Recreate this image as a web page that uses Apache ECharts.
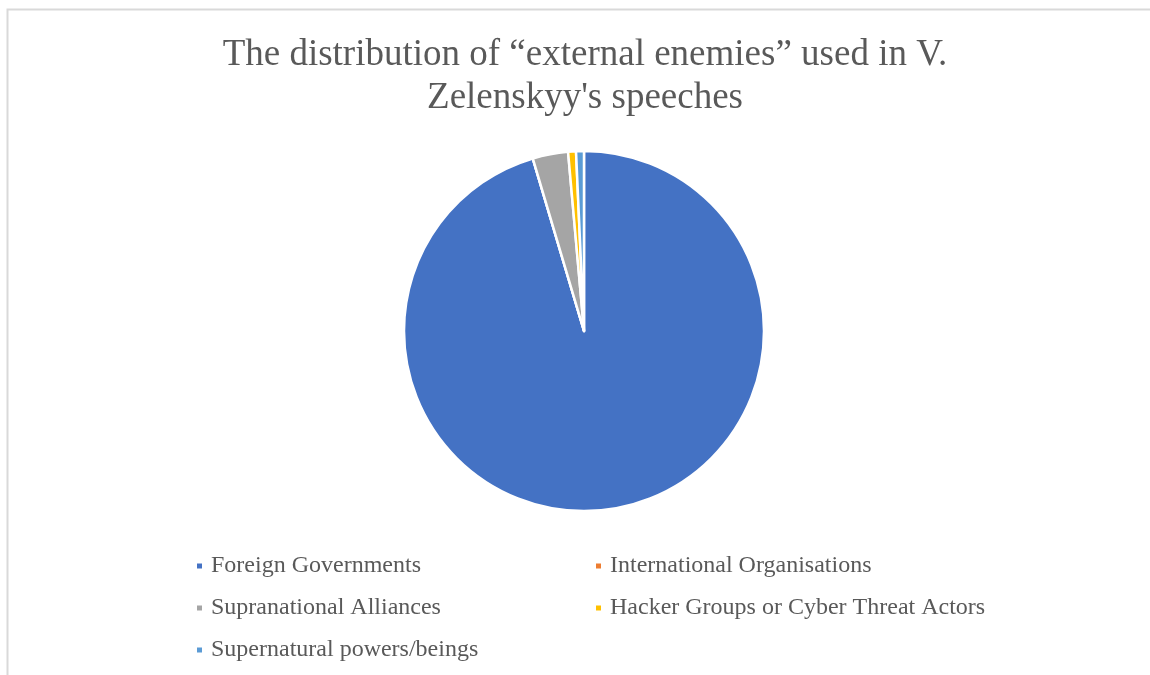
<!DOCTYPE html>
<html>
<head>
<meta charset="utf-8">
<script src="https://cdn.jsdelivr.net/npm/echarts@6/dist/echarts.min.js"></script>
<style>
  html, body { margin: 0; padding: 0; background: #fff; }
  #chart { width: 1150px; height: 675px; }
</style>
</head>
<body>
<div id="chart"></div>
<script>
// enemy categories, in the order Excel drew them (clockwise from 12 o'clock)
const categories = [
  'Foreign Governments',
  'International Organisations',
  'Supranational Alliances',
  'Hacker Groups or Cyber Threat Actors',
  'Supernatural powers/beings'
]
const counts = [270, 0, 9, 2, 2]
const colors = ['#4472C4', '#ED7D31', '#A5A5A5', '#FFC000', '#5B9BD5']

// legend columns as laid out in the picture
const leftColumn = [categories[0], categories[2], categories[4]]
const rightColumn = [categories[1], categories[3]]

const chart = echarts.init(document.getElementById('chart'))

const legendBase = {
  orient: 'vertical',
  icon: 'rect',
  padding: 0,
  itemWidth: 7,
  itemHeight: 7,
  itemGap: 18,
  selectedMode: false,
  textStyle: {
    fontFamily: 'Liberation Serif',
    fontSize: 24,
    color: '#595959',
    padding: [0, 0, 0, 3],
    height: 24,
    lineHeight: 24
  }
}

const option = {
  color: colors,
  animation: false,
  title: {
    text: 'The distribution of \u201cexternal enemies\u201d used in V.\nZelenskyy\'s speeches',
    left: 580,
    top: 29,
    textAlign: 'center',
    textStyle: {
      fontFamily: 'Liberation Serif',
      fontSize: 37,
      fontWeight: 'normal',
      color: '#595959',
      lineHeight: 43
    }
  },
  legend: [
    Object.assign({}, legendBase, { data: leftColumn, left: 195, top: 554 }),
    Object.assign({}, legendBase, { data: rightColumn, left: 594, top: 554 })
  ],
  graphic: [{
    type: 'polyline',
    shape: { points: [[7.5, 675], [7.5, 9.5], [1150, 9.5]] },
    style: { stroke: '#d9d9d9', lineWidth: 2, fill: null },
    silent: true
  }],
  series: [{
    type: 'pie',
    center: [584, 331],
    radius: [0, 180],
    startAngle: 90,
    clockwise: true,
    minAngle: 0,
    stillShowZeroSum: true,
    label: { show: false },
    labelLine: { show: false },
    emphasis: { disabled: true },
    itemStyle: {
      borderColor: '#fff',
      borderWidth: 2.5
    },
    data: categories.map((name, i) => ({ name: name, value: counts[i] }))
  }]
}

chart.setOption(option)
</script>
</body>
</html>
